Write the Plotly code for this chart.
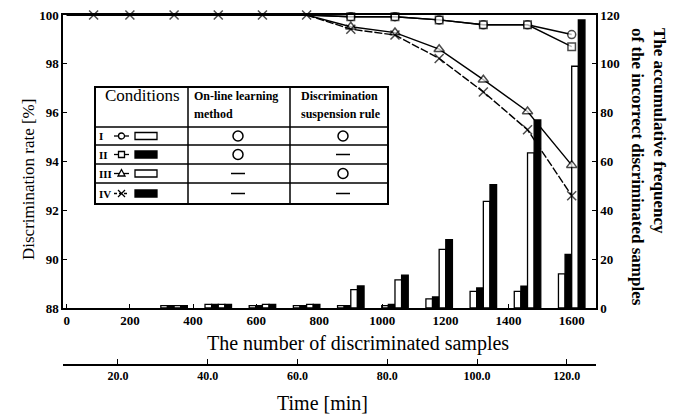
import plotly.graph_objects as go

# ---------------- data ----------------
samples = [0, 85, 200, 340, 480, 620, 760, 900, 1040, 1180, 1320, 1460, 1600]
rate_I = [100, 100, 100, 100, 100, 100, 100, 99.93, 99.93, 99.8, 99.6, 99.6, 99.2]
rate_II = [100, 100, 100, 100, 100, 100, 100, 99.93, 99.93, 99.8, 99.6, 99.6, 98.7]
rate_III = [100, 100, 100, 100, 100, 100, 100, 99.52, 99.28, 98.6, 97.35, 96.05, 93.85]
rate_IV = [100, 100, 100, 100, 100, 100, 100, 99.42, 99.18, 98.22, 96.85, 95.3, 92.6]

bar_x = [340, 480, 620, 760, 900, 1040, 1180, 1320, 1460, 1600]
freq_I = [1, 1.5, 1, 1, 1, 1, 3.7, 6.8, 6.8, 14]
freq_II = [1, 1.5, 1, 1, 1, 1.5, 4.5, 8.2, 8.9, 22]
freq_III = [1, 1.5, 1.5, 1.5, 7.5, 11.5, 24, 43.7, 63.5, 99]
freq_IV = [1, 1.5, 1.5, 1.5, 9, 13.5, 28, 50.5, 77, 118]

sample_ticks = [0, 200, 400, 600, 800, 1000, 1200, 1400, 1600]
rate_ticks = [88, 90, 92, 94, 96, 98, 100]
freq_ticks = [0, 20, 40, 60, 80, 100, 120]
time_ticks = [20, 40, 60, 80, 100, 120]
time_labels = ["20.0", "40.0", "60.0", "80.0", "100.0", "120.0"]

conditions = ["I", "II", "III", "IV"]
online_learning = [True, True, False, False]
suspension_rule = [True, False, True, False]

# ---------------- geometry helpers (window pixel coords) ----------------
OFF = 8                     # default page body margin
W, H = 683 - OFF, 414 - OFF  # figure size so it fits the window
L, R, T, B = 63 - OFF, 87, 15 - OFF, 10
PW, PH = W - L - R, H - T - B
PLOT_BOTTOM = 308
TIME_LINE = 365


def px(x):
    return (x - OFF - L) / PW


def py(y):
    return (H - B - (y - OFF)) / PH


SERIF = "Liberation Serif"
BLACK = "black"

fig = go.Figure()

# bars (right axis, base y)
bar_fill = ["white", BLACK, "white", BLACK]
for i, vals in enumerate([freq_I, freq_II, freq_III, freq_IV]):
    fig.add_trace(go.Bar(
        x=bar_x, y=vals, width=21, offset=-42 + 21 * i,
        marker=dict(color=bar_fill[i], line=dict(color=BLACK, width=1.3)),
        xaxis="x", yaxis="y", showlegend=False, hoverinfo="skip"))


# lines (left axis, y2)
def sizes(first_x, s):
    return [0 if x < first_x else s for x in samples]


line_specs = [
    (rate_I, "circle", sizes(900, 8), "solid"),
    (rate_II, "square", sizes(900, 7.5), "solid"),
    (rate_III, "triangle-up", sizes(900, 9), "solid"),
    (rate_IV, "x-thin", sizes(1, 9), "8px,2px"),
]
for vals, sym, sz, dash in line_specs:
    fig.add_trace(go.Scatter(
        x=samples, y=vals, mode="lines+markers",
        line=dict(color=BLACK, width=1.4, dash=dash),
        marker=dict(symbol=sym, size=sz, color="white",
                    line=dict(color=BLACK, width=1.5)),
        xaxis="x", yaxis="y2", showlegend=False, hoverinfo="skip", cliponaxis=False))

# dummy trace for the time axis
fig.add_trace(go.Scatter(x=[time_ticks[0], time_ticks[-1]], y=[None, None],
                         xaxis="x2", yaxis="y", mode="markers",
                         showlegend=False, hoverinfo="skip"))

tick_font = dict(family=SERIF, size=13, color=BLACK, weight="bold")
axis_common = dict(showline=True, linecolor=BLACK, linewidth=1.5, showgrid=False,
                   zeroline=False, ticks="inside", ticklen=4, tickcolor=BLACK,
                   tickwidth=1.2, tickfont=tick_font, automargin=False,
                   ticklabeloverflow="allow")

dom_bottom = py(PLOT_BOTTOM)
fig.update_layout(
    template="none",
    width=W, height=H, margin=dict(l=L, r=R, t=T, b=B, autoexpand=False),
    paper_bgcolor="white", plot_bgcolor="white", showlegend=False,
    font=dict(family=SERIF, color=BLACK),
    barmode="overlay",
    xaxis=dict(domain=[0, 1], range=[-12, 1677], anchor="y", mirror=True,
               tickvals=sample_ticks, **axis_common),
    yaxis=dict(domain=[dom_bottom, 1], range=[0, 120], side="right", anchor="x",
               tickvals=freq_ticks, **axis_common),
    yaxis2=dict(overlaying="y", side="left", range=[88, 100], anchor="x",
                tickvals=rate_ticks, **axis_common),
    xaxis2=dict(overlaying="x", anchor="free", position=py(TIME_LINE), side="bottom",
                range=[7.75, 126.5], tickvals=time_ticks, ticktext=time_labels,
                showline=True, linecolor=BLACK, linewidth=1.5, showgrid=False,
                zeroline=False, ticks="inside", ticklen=5, tickcolor=BLACK,
                tickwidth=1.2, automargin=False, ticklabeloverflow="allow",
                tickfont=dict(family=SERIF, size=12, color=BLACK, weight="bold")),
)

# ---------------- titles ----------------
ann = []
ann.append(dict(text="Discrimination rate [%]", x=px(28), y=py(180), xref="paper", yref="paper",
                textangle=-90, showarrow=False, xanchor="center", yanchor="middle",
                font=dict(family=SERIF, size=17, color=BLACK)))
for txt, cx in [("The accumulative frequency", 659),
                ("of the incorrect discriminated samples", 637)]:
    ann.append(dict(text=txt, x=px(cx), y=py(26), xref="paper", yref="paper", textangle=90,
                    showarrow=False, xanchor="center", yanchor="top",
                    font=dict(family=SERIF, size=17, color=BLACK, weight="bold")))
ann.append(dict(text="The number of discriminated samples", x=px(358), y=py(343),
                xref="paper", yref="paper", showarrow=False, xanchor="center", yanchor="middle",
                font=dict(family=SERIF, size=20, color=BLACK)))
ann.append(dict(text="Time [min]", x=px(322), y=py(403), xref="paper", yref="paper",
                showarrow=False, xanchor="center", yanchor="middle",
                font=dict(family=SERIF, size=20, color=BLACK)))

# ---------------- condition table ----------------
shapes = []
tl, tr, tt, tb = 95, 388, 87, 204
cols = [188, 290]
rows = [127, 145, 164, 183]
lw = 1.5


def line(x0, y0, x1, y1, w=lw, dash="solid"):
    shapes.append(dict(type="line", xref="paper", yref="paper",
                       x0=px(x0), y0=py(y0), x1=px(x1), y1=py(y1),
                       line=dict(color=BLACK, width=w, dash=dash)))


shapes.append(dict(type="rect", xref="paper", yref="paper", x0=px(tl), y0=py(tt),
                   x1=px(tr), y1=py(tb), fillcolor="white",
                   line=dict(color=BLACK, width=2)))
for c in cols:
    line(c, tt, c, tb)
for r in rows:
    line(tl, r, tr, r)

ann.append(dict(text="Conditions", x=px(142), y=py(96), xref="paper", yref="paper",
                showarrow=False, xanchor="center", yanchor="middle",
                font=dict(family=SERIF, size=17, color=BLACK)))
for txt, x0, y0 in [("On-line learning", 192, 96), ("method", 192, 114),
                    ("Discrimination", 299, 96), ("suspension rule", 299, 114)]:
    ann.append(dict(text=txt, x=px(x0), y=py(y0), xref="paper", yref="paper",
                    showarrow=False, xanchor="left", yanchor="middle",
                    font=dict(family=SERIF, size=12, color=BLACK, weight="bold")))

row_centers = [(a + b) / 2 for a, b in zip(rows, rows[1:] + [tb])]
for i, yc in enumerate(row_centers):
    ann.append(dict(text=conditions[i], x=px(97), y=py(yc), xref="paper", yref="paper",
                    showarrow=False, xanchor="left", yanchor="middle",
                    font=dict(family=SERIF, size=11, color=BLACK, weight="bold")))
    # line sample
    line(114, yc, 129, yc, w=1.3, dash=("3px,2px" if i == 3 else "solid"))
    mx = 121.5
    if i == 0:
        shapes.append(dict(type="circle", xref="paper", yref="paper",
                           x0=px(mx - 3), x1=px(mx + 3), y0=py(yc - 3), y1=py(yc + 3),
                           fillcolor="white", line=dict(color=BLACK, width=1.3)))
    elif i == 1:
        shapes.append(dict(type="rect", xref="paper", yref="paper",
                           x0=px(mx - 3), x1=px(mx + 3), y0=py(yc - 3), y1=py(yc + 3),
                           fillcolor="white", line=dict(color=BLACK, width=1.3)))
    elif i == 2:
        path = "M {} {} L {} {} L {} {} Z".format(px(mx), py(yc - 4), px(mx - 3.5), py(yc + 2.5),
                                                  px(mx + 3.5), py(yc + 2.5))
        shapes.append(dict(type="path", xref="paper", yref="paper", path=path,
                           fillcolor="white", line=dict(color=BLACK, width=1.3)))
    else:
        line(mx - 3.5, yc - 3.5, mx + 3.5, yc + 3.5, w=1.3)
        line(mx - 3.5, yc + 3.5, mx + 3.5, yc - 3.5, w=1.3)
    # bar sample
    shapes.append(dict(type="rect", xref="paper", yref="paper",
                       x0=px(135), x1=px(157), y0=py(yc - 3.5), y1=py(yc + 3.5),
                       fillcolor=bar_fill[i], line=dict(color=BLACK, width=1.3)))
    # method columns
    for flag, cx in [(online_learning[i], 238), (suspension_rule[i], 343)]:
        if flag:
            shapes.append(dict(type="circle", xref="paper", yref="paper",
                               x0=px(cx - 5), x1=px(cx + 5), y0=py(yc - 5), y1=py(yc + 5),
                               fillcolor="white", line=dict(color=BLACK, width=1.5)))
        else:
            line(cx - 7, yc, cx + 7, yc, w=1.5)

fig.update_layout(shapes=shapes, annotations=ann)
fig.write_html("out.html")
